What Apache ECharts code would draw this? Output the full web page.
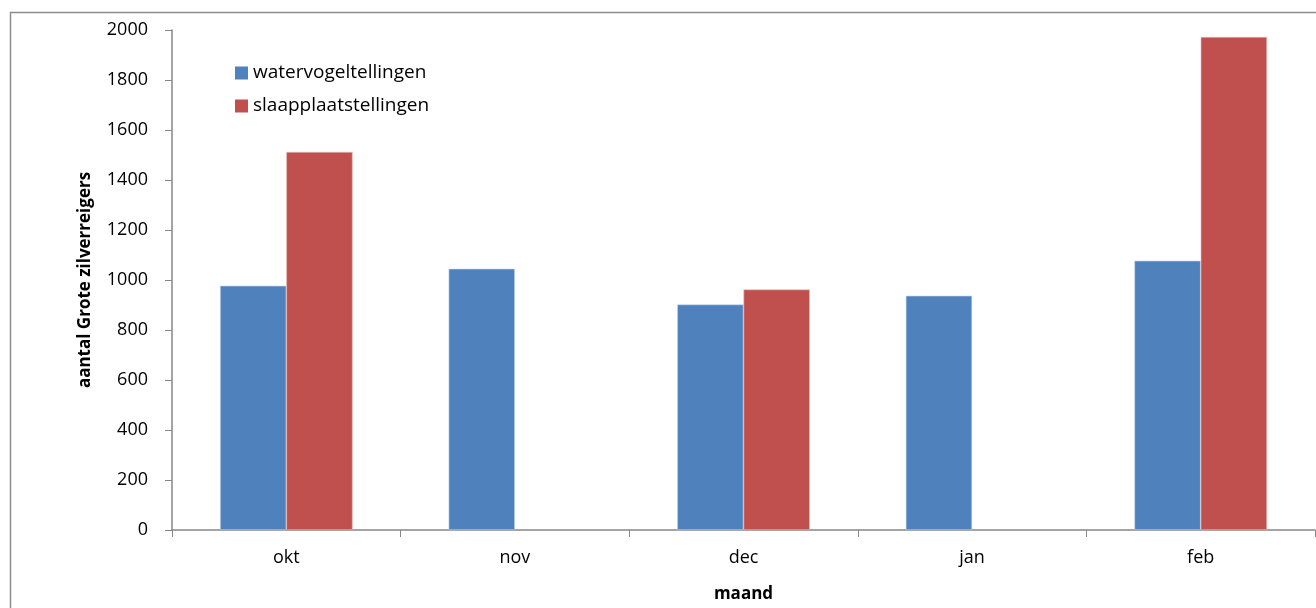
<!DOCTYPE html>
<html>
<head>
<meta charset="utf-8">
<script src="https://cdn.jsdelivr.net/npm/echarts@6/dist/echarts.min.js"></script>
<style>html,body{margin:0;padding:0;background:#fff;}#c{width:1316px;height:608px;}</style>
</head>
<body>
<div id="c"></div>
<script>
const categories = ['okt', 'nov', 'dec', 'jan', 'feb'];
const watervogel = [977, 1045, 902, 937, 1077];
const slaapplaats = [1512, null, 962, null, 1972];
const seriesNames = ['watervogeltellingen', 'slaapplaatstellingen'];
const yTicks = { min: 0, max: 2000, interval: 200 };

const font = '"Open Sans", sans-serif';
const chart = echarts.init(document.getElementById('c'));
chart.setOption({
  animation: false,
  backgroundColor: '#fff',
  graphic: [{
    type: 'rect', z: -1,
    shape: { x: 10.5, y: 12.5, width: 1330, height: 620 },
    style: { fill: 'none', stroke: '#8c8c8c', lineWidth: 1.5 }
  }],
  grid: { left: 172, right: 1, top: 30, bottom: 76 },
  legend: {
    orient: 'vertical', left: 230, top: 58, itemGap: 13,
    itemWidth: 13, itemHeight: 13, icon: 'rect',
    itemStyle: { borderWidth: 0 },
    textStyle: { fontFamily: font, fontSize: 19, lineHeight: 20, color: '#000' },
    data: seriesNames
  },
  xAxis: {
    type: 'category', data: categories,
    name: 'maand', nameLocation: 'middle', nameGap: 56,
    nameTextStyle: { fontFamily: font, fontSize: 17, fontWeight: 'bold', color: '#000' },
    axisLine: { lineStyle: { color: '#868686', width: 1.5 } },
    axisTick: { show: true, length: 7, lineStyle: { color: '#868686' } },
    axisLabel: { fontFamily: font, fontSize: 18, color: '#000', margin: 19 }
  },
  yAxis: {
    type: 'value', min: yTicks.min, max: yTicks.max, interval: yTicks.interval,
    name: 'aantal Grote zilverreigers', nameLocation: 'middle', nameGap: 78, nameRotate: 90,
    nameTextStyle: { fontFamily: font, fontSize: 17, fontWeight: 'bold', color: '#000' },
    axisLine: { show: true, lineStyle: { color: '#868686', width: 1.5 } },
    axisTick: { show: true, length: 7, lineStyle: { color: '#868686' } },
    splitLine: { show: false },
    axisLabel: { fontFamily: font, fontSize: 18, color: '#000', margin: 24, formatter: v => String(v) }
  },
  series: [
    { name: seriesNames[0], type: 'bar', data: watervogel, barGap: '0%', barCategoryGap: '42%',
      itemStyle: { color: '#4f81bd', borderColor: '#c5d5ea', borderWidth: 0.6 } },
    { name: seriesNames[1], type: 'bar', data: slaapplaats,
      itemStyle: { color: '#c0504d', borderColor: '#e6b9b8', borderWidth: 0.6 } }
  ]
});
</script>
</body>
</html>
